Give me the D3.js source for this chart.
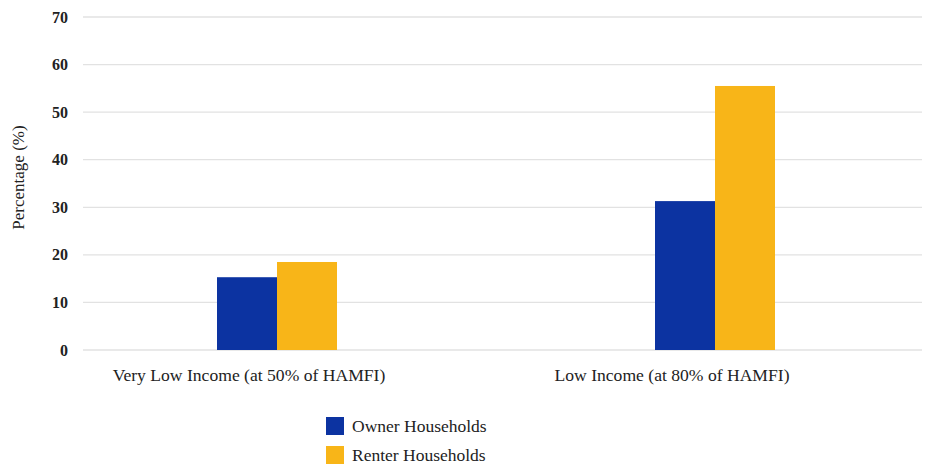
<!DOCTYPE html>
<html>
<head>
<meta charset="utf-8">
<script src="https://cdn.jsdelivr.net/npm/d3@7"></script>
<style>
  body { margin: 0; background: #fff; }
  svg { display: block; }
</style>
</head>
<body>
<svg id="chart" width="925" height="464"></svg>
<script>
// Share of households by income tier and tenure
const categories = ["Very Low Income (at 50% of HAMFI)", "Low Income (at 80% of HAMFI)"];
const seriesNames = ["Owner Households", "Renter Households"];
const ownerValues = [15.3, 31.3];
const renterValues = [18.5, 55.5];
const yTicks = [0, 10, 20, 30, 40, 50, 60, 70];
const colors = ["#0c33a1", "#f8b518"];

const FONT = '"Liberation Serif"';
const svg = d3.select("#chart");
const plot = { left: 83, right: 922, top: 17, bottom: 350 };

const y = d3.scaleLinear().domain([0, 70]).range([plot.bottom, plot.top]);

// group positions for the bars
const x0 = d3.scaleBand().domain(categories).range([58, 934]).paddingInner(0).paddingOuter(0);
const x1 = d3.scaleBand().domain(seriesNames).range([0, 120]).padding(0);
// positions for category labels
const xl = d3.scalePoint().domain(categories).range([249, 672]);

// gridlines
svg.append("g")
  .selectAll("line")
  .data(yTicks)
  .join("line")
  .attr("x1", plot.left).attr("x2", plot.right)
  .attr("y1", d => y(d)).attr("y2", d => y(d))
  .attr("stroke", "#e2e2e2").attr("stroke-width", 1.3);

// y axis tick labels
const yAxis = d3.axisLeft(y).tickValues(yTicks).tickSize(0).tickPadding(0);
const gy = svg.append("g").attr("transform", "translate(68,0)").call(yAxis);
gy.attr("font-family", null);
gy.select(".domain").remove();
gy.selectAll("text")
  .style("font-family", FONT)
  .style("font-size", "16px").style("font-weight", "bold").style("fill", "#222");

// axis title
svg.append("text")
  .attr("transform", `translate(24,${(plot.top + plot.bottom) / 2 - 6}) rotate(-90)`)
  .attr("text-anchor", "middle")
  .style("font-family", FONT).style("font-size", "17px").style("fill", "#222")
  .text("Percentage (%)");

// bars
const rows = categories.map((c, i) => ({ cat: c, vals: [ownerValues[i], renterValues[i]] }));
const groups = svg.append("g").selectAll("g")
  .data(rows).join("g")
  .attr("transform", d => `translate(${x0(d.cat) + x0.bandwidth() / 2 - x1.range()[1] / 2},0)`);
groups.selectAll("rect")
  .data(d => d.vals.map((v, j) => ({ name: seriesNames[j], v, j })))
  .join("rect")
  .attr("x", d => x1(d.name))
  .attr("width", x1.bandwidth())
  .attr("y", d => y(d.v))
  .attr("height", d => y(0) - y(d.v))
  .attr("fill", d => colors[d.j]);

// category labels
svg.append("g").selectAll("text")
  .data(categories).join("text")
  .attr("x", d => xl(d)).attr("y", 381)
  .attr("text-anchor", "middle")
  .style("font-family", FONT).style("font-size", "17.6px").style("fill", "#222")
  .text(d => d);

// legend
const lg = svg.append("g").attr("transform", "translate(326,417)");
const li = lg.selectAll("g").data(seriesNames).join("g")
  .attr("transform", (d, i) => `translate(0,${i * 29})`);
li.append("rect").attr("width", 18).attr("height", 18).attr("fill", (d, i) => colors[i]);
li.append("text").attr("x", 26).attr("y", 15)
  .style("font-family", FONT).style("font-size", "17.5px").style("fill", "#222")
  .text(d => d);
</script>
</body>
</html>
